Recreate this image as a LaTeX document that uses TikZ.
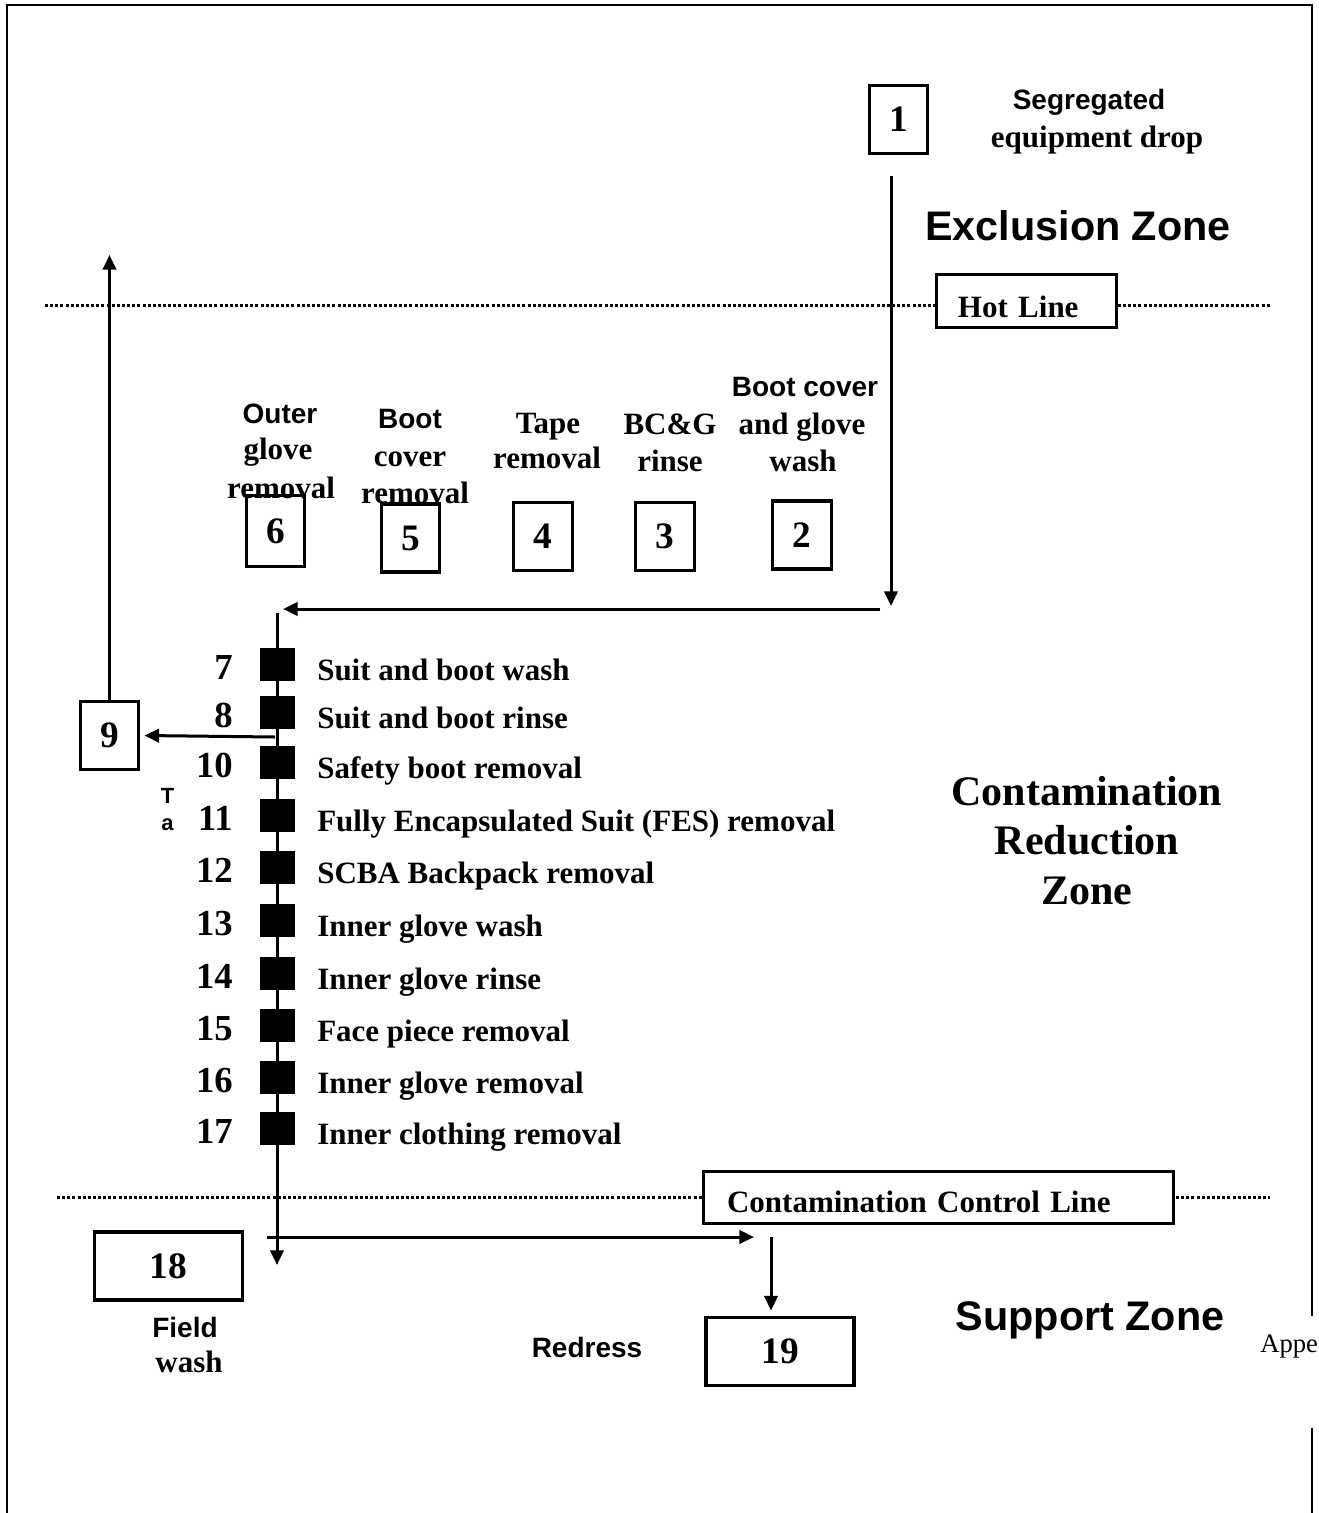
\documentclass[tikz,border=0pt]{standalone}
\usepackage{fontspec}
\setmainfont{Liberation Serif}
\setsansfont{Liberation Sans}
\usetikzlibrary{arrows.meta,positioning}

\begin{document}
\begin{tikzpicture}[x=0.75pt,y=-0.75pt,
    >={Triangle[length=11pt,width=10pt]},
    flow/.style={->,line width=2.25pt},
    zoneline/.style={line width=2.25pt,dash pattern=on 2.25pt off 1.6pt},
    numbox/.style={draw,line width=2.4pt,inner sep=0pt,minimum width=44pt,
      minimum height=51pt,font=\bfseries\fontsize{28}{32}\selectfont},
    widebox/.style={numbox,minimum width=111pt},
    linebox/.style={draw,fill=white,line width=2.4pt,inner ysep=0pt,align=left,
      font=\bfseries\fontsize{23.25}{28}\selectfont},
    tag/.style={fill=black,inner sep=0pt,minimum width=26.25pt,minimum height=24.75pt},
    rmtxt/.style={inner sep=0pt,anchor=base,font=\bfseries\fontsize{23.25}{28}\selectfont},
    sftxt/.style={inner sep=0pt,anchor=base,font=\sffamily\bfseries\fontsize{21}{25}\selectfont},
    rmnum/.style={inner sep=0pt,anchor=base east,font=\bfseries\fontsize{27.5}{32}\selectfont},
    rmzone/.style={inner sep=0pt,anchor=base,font=\bfseries\fontsize{31.5}{37}\selectfont},
    sfzone/.style={inner sep=0pt,anchor=base,font=\sffamily\bfseries\fontsize{31}{37}\selectfont}]

  \useasboundingbox (0,0) rectangle (1319,1513);

  % page frame
  \draw[line width=1.5pt] (7,1513) -- (7,5) -- (1312,5) -- (1312,1316);
  \draw[line width=1.5pt] (1312,1428) -- (1312,1513);
  \node[inner sep=0pt,anchor=base west,font=\fontsize{20}{24}\selectfont] (appx) at (1260,1352) {Appe};

  % zone boundaries
  \draw[zoneline] (45,305) -- (1270,305);
  \draw[zoneline] (57,1197) -- (1270,1197);
  \node[linebox,anchor=north west,inner xsep=16pt,text width=102.75pt,
    text height=31.9pt,text depth=7.9pt] (hotline) at (935,273) {Hot Line};
  \node[linebox,anchor=north west,inner xsep=17.6pt,text width=317.25pt,
    text height=30.4pt,text depth=8.6pt] (ccline) at (702,1170) {Contamination Control Line};

  % zone names
  \node[sfzone] (exz) at (1078,240) {Exclusion Zone};
  \node[rmzone] (crz1) at (1087,805) {Contamination};
  \node[rmzone] (crz2) at (1087,854) {Reduction};
  \node[rmzone] (crz3) at (1087,904) {Zone};
  \node[sfzone] (spz) at (1090,1330) {Support Zone};

  % stations
  \node[numbox] (b1) at (898.5,119.5) {1};
  \node[numbox,minimum height=53.25pt] (b6) at (275.5,531) {6};
  \node[numbox] (b5) at (410.5,538) {5};
  \node[numbox] (b4) at (543,536.5) {4};
  \node[numbox] (b3) at (665,536.5) {3};
  \node[numbox] (b2) at (802,535) {2};
  \node[numbox] (b9) at (109.5,735.5) {9};
  \node[widebox] (b18) at (168.5,1266) {18};
  \node[widebox] (b19) at (780,1351.5) {19};

  \node[sftxt] (seg1) at (1089,109) {Segregated};
  \node[rmtxt] (seg2) at (1097,147) {equipment drop};
  \node[sftxt] (l6a) at (280,423) {Outer};
  \node[rmtxt] (l6b) at (278,459) {glove};
  \node[rmtxt] (l6c) at (281,498) {removal};
  \node[sftxt] (l5a) at (410,428) {Boot};
  \node[rmtxt] (l5b) at (410,466) {cover};
  \node[rmtxt] (l5c) at (415,503) {removal};
  \node[rmtxt] (l4a) at (548,433) {Tape};
  \node[rmtxt] (l4b) at (547,468) {removal};
  \node[rmtxt] (l3a) at (670,434) {BC\&G};
  \node[rmtxt] (l3b) at (670,471) {rinse};
  \node[sftxt] (l2a) at (805,396) {Boot cover};
  \node[rmtxt] (l2b) at (802,434) {and glove};
  \node[rmtxt] (l2c) at (803,471) {wash};
  \node[sftxt,font=\sffamily\bfseries\fontsize{16.5}{20}\selectfont] (tA) at (167.5,803) {T};
  \node[sftxt,font=\sffamily\bfseries\fontsize{16.5}{20}\selectfont] (tB) at (167.5,830) {a};
  \node[sftxt] (l18a) at (185,1337) {Field};
  \node[rmtxt] (l18b) at (189,1372) {wash};
  \node[sftxt] (l19) at (587,1357) {Redress};

  % flow
  \coordinate (dropTop) at (891,176);
  \coordinate (dropEnd) at (891,606);
  \coordinate (turnStart) at (880,609);
  \coordinate (turnEnd) at (283,609);
  \coordinate (colTop) at (277,613);
  \coordinate (colEnd) at (277,1265);
  \coordinate (split9) at (275,737);
  \coordinate (exitTop) at (109.5,255);
  \coordinate (ccStart) at (267,1237);
  \coordinate (ccEnd) at (754,1237);
  \coordinate (dressTop) at (771,1237);

  \draw[flow] (dropTop) -- (dropEnd);
  \draw[flow] (turnStart) -- (turnEnd);
  \draw[flow] (colTop) -- (colEnd);
  \draw[flow] (split9) -- ([xshift=3pt]b9.east);
  \draw[flow] (b9.north) -- (exitTop);
  \draw[flow] (ccStart) -- (ccEnd);
  \draw[flow] (dressTop) -- ([yshift=4pt]dressTop |- b19.north);

  \foreach \k/\yc/\txt in {7/664/Suit and boot wash,8/712/Suit and boot rinse,
      10/762/Safety boot removal,11/815/Fully Encapsulated Suit (FES) removal,
      12/867/SCBA Backpack removal,13/920/Inner glove wash,14/973/Inner glove rinse,
      15/1025/Face piece removal,16/1077/Inner glove removal,17/1128/Inner clothing removal}{
    \node[tag] (s\k) at (277,\yc) {};
    \node[rmnum] (n\k) at (233,\yc+15) {\k};
    \node[rmtxt,anchor=base west] (t\k) at (317,\yc+16) {\txt};
  }
\end{tikzpicture}
\end{document}
